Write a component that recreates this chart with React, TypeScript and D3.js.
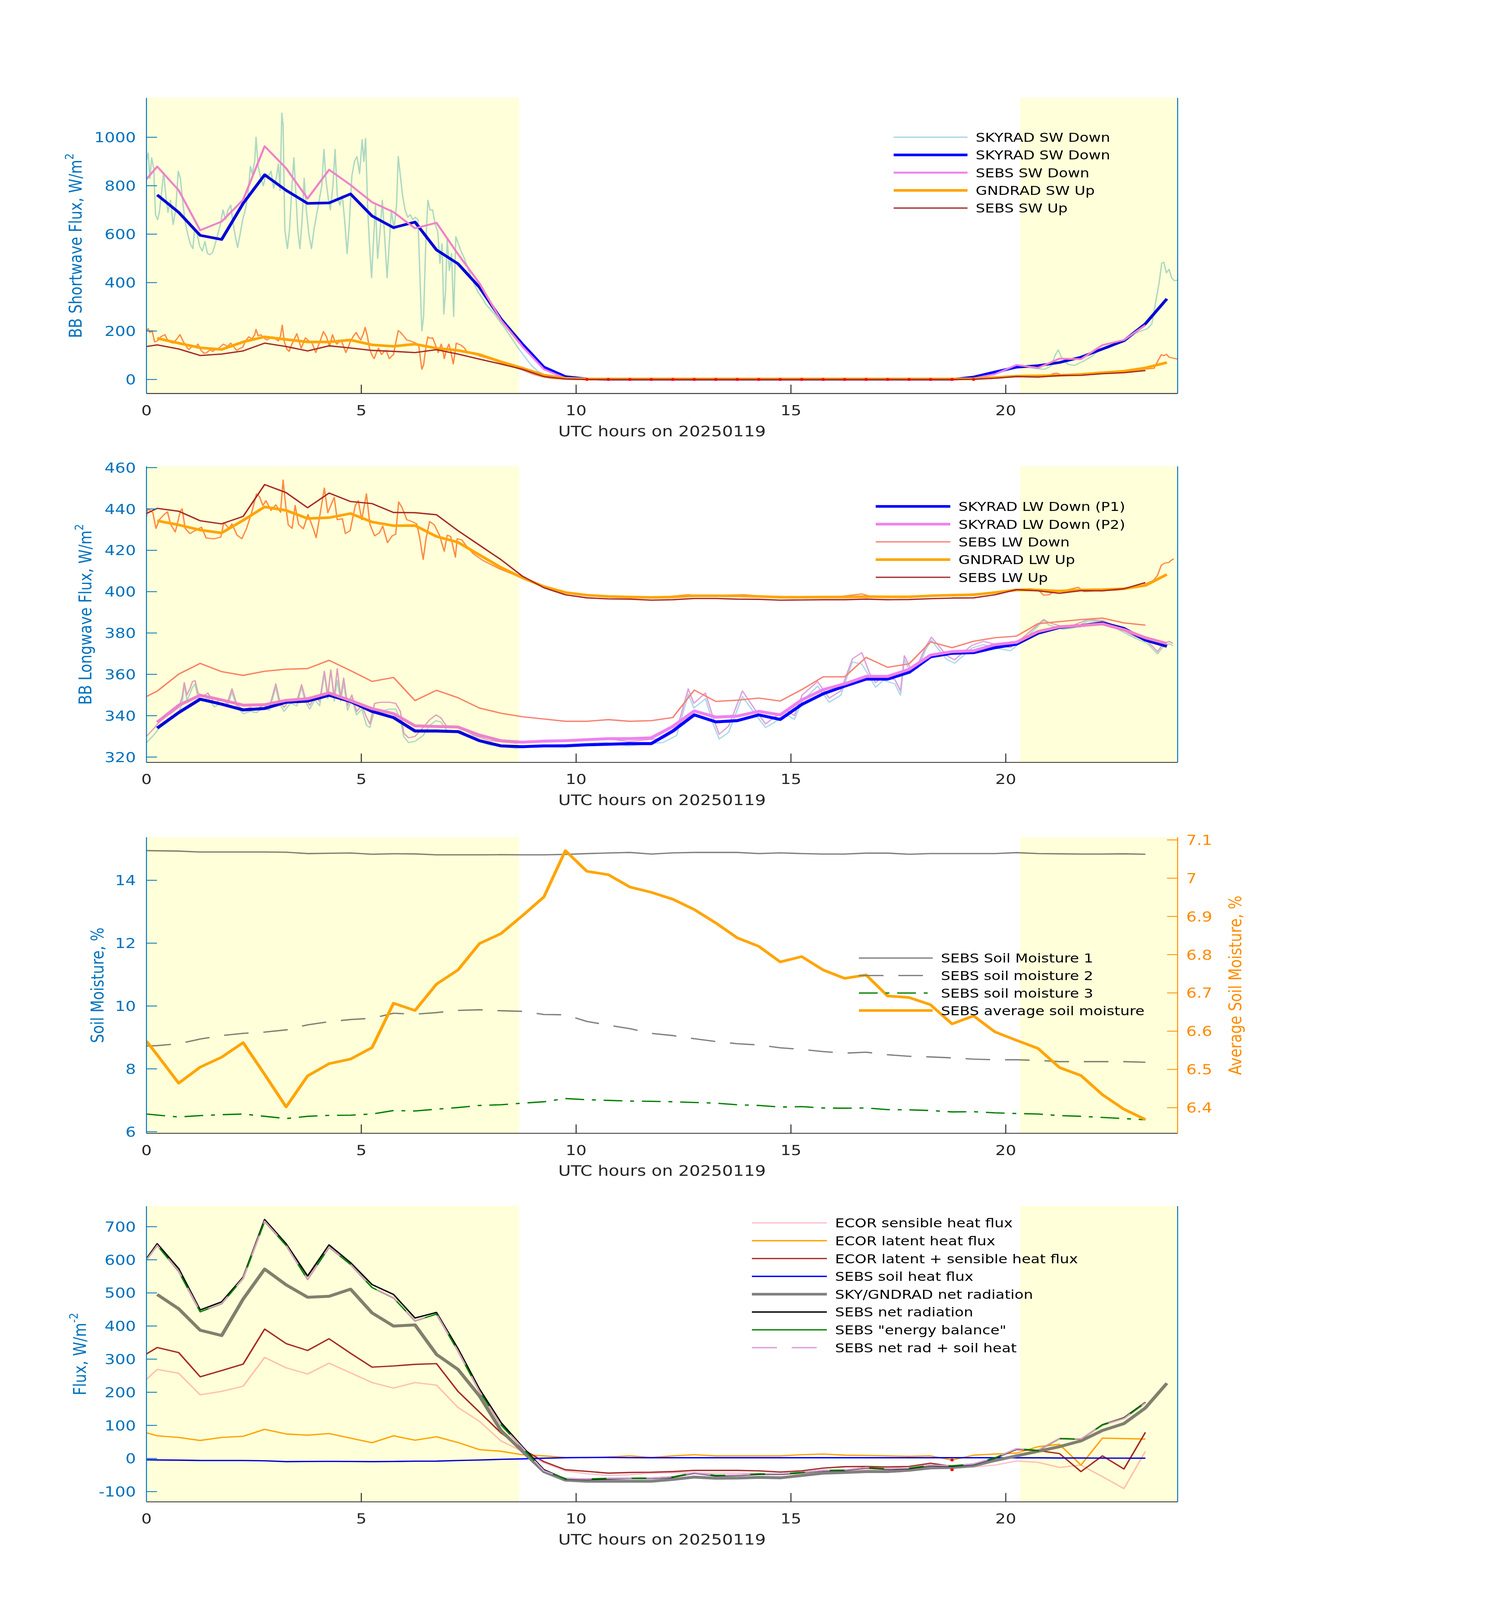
import * as d3 from 'd3';

// ── Canvas & layout ───────────────────────────────────────────────────────────
const W = 3825;
const H = 4875;
const L = 375;
const R = 3015;
const TICK = 27;
const FONT = "'DejaVu Sans', sans-serif";
const BLUE_AX = '#0072BD';
const DARK = '#262626';
const ORANGE_AX = '#FF8C00';
const NIGHT = '#FFFFD9';

const NIGHTS: [number, number][] = [[0, 8.67], [20.33, 24]];
const X_TICKS = [0, 5, 10, 15, 20];
const X_LABEL = 'UTC hours on 20250119';

// 30-min averages: first value at 0 h, then centred on quarter past / to the hour
const HOURS = [0, ...d3.range(0.25, 24, 0.5)];

// ── Panel 1: shortwave ────────────────────────────────────────────────────────
const SKY_SW = [null, 762, 690, 595, 578, 727, 845, 781, 727, 729,
  766, 675, 627, 650, 535, 478, 381, 250, 146, 51,
  12, 2, 0, 0, 0, 0, 0, 0, 0, 0,
  0, 0, 0, 0, 0, 0, 0, 0, 0, 10,
  31, 51, 57, 70, 92, 126, 160, 230, 333];
const SEBS_SW_DN = [827, 879, 781, 616, 652, 742, 963, 872, 747, 866,
  803, 732, 691, 624, 647, 518, 397, 245, 136, 42,
  5, 0, -1, -1, -1, -1, -1, -1, -1, -1,
  -1, -1, -1, -1, -1, -1, -1, -1, -1, 4,
  22, 60, 48, 86, 84, 142, 163, 224, null];
const GND_SW = [null, 170, 150, 131, 124, 155, 176, 165, 155, 155,
  163, 143, 137, 146, 129, 120, 103, 73, 47, 18,
  5, 2, 2, 2, 2, 2, 2, 2, 2, 2,
  2, 2, 2, 2, 2, 2, 2, 2, 2, 3,
  8, 14, 15, 17, 21, 28, 34, 48, 70];
const SEBS_SW_UP = [136, 143, 126, 99, 105, 118, 150, 136, 118, 139,
  130, 120, 116, 111, 123, 105, 84, 64, 42, 12,
  2, 0, 0, 0, 0, 0, 0, 0, 0, 0,
  0, 0, 0, 0, 0, 0, 0, 0, 0, 1,
  5, 12, 10, 16, 17, 24, 28, 37, null];
const SW_FLAG_HOURS = [10.25, 10.75, 11.25, 11.75, 12.25, 12.75, 13.25, 13.75, 14.25, 14.75,
  15.25, 15.75, 16.25, 16.75, 17.25, 17.75, 18.25, 18.75, 19.25];

const SKY_SW_RAW: [number, number][] = [
  [0, 905], [0.04, 935], [0.08, 830], [0.12, 915], [0.17, 870], [0.21, 680], [0.26, 660], [0.3, 690],
  [0.35, 770], [0.4, 855], [0.45, 760], [0.5, 690], [0.56, 740], [0.62, 640], [0.68, 700], [0.74, 860],
  [0.79, 830], [0.84, 740], [0.9, 650], [0.96, 600], [1.02, 560], [1.08, 540], [1.12, 620], [1.18, 600],
  [1.24, 550], [1.3, 530], [1.36, 570], [1.42, 520], [1.48, 515], [1.54, 525], [1.6, 560], [1.66, 600],
  [1.72, 640], [1.78, 700], [1.84, 660], [1.9, 700], [1.96, 720], [2.02, 640], [2.08, 580], [2.12, 545],
  [2.18, 600], [2.24, 660], [2.3, 700], [2.36, 760], [2.42, 880], [2.46, 850], [2.52, 900], [2.55, 1000],
  [2.6, 880], [2.66, 830], [2.72, 800], [2.78, 850], [2.84, 840], [2.9, 860], [2.96, 790], [3.02, 830],
  [3.07, 890], [3.11, 780], [3.15, 1100], [3.18, 1050], [3.22, 620], [3.28, 540], [3.33, 620], [3.38, 780],
  [3.43, 915], [3.48, 760], [3.52, 620], [3.57, 540], [3.62, 650], [3.67, 830], [3.72, 700], [3.78, 600],
  [3.84, 540], [3.9, 620], [3.96, 680], [4.02, 740], [4.08, 800], [4.13, 950], [4.18, 820], [4.23, 750],
  [4.28, 700], [4.34, 800], [4.39, 950], [4.44, 760], [4.5, 720], [4.56, 760], [4.62, 640], [4.67, 520],
  [4.72, 640], [4.78, 840], [4.84, 900], [4.9, 920], [4.96, 850], [5.02, 990], [5.06, 900], [5.1, 995],
  [5.15, 700], [5.19, 560], [5.24, 420], [5.28, 560], [5.33, 720], [5.38, 500], [5.44, 620], [5.49, 740],
  [5.54, 600], [5.6, 420], [5.65, 560], [5.7, 700], [5.76, 620], [5.82, 720], [5.86, 920], [5.91, 840],
  [5.96, 760], [6.02, 700], [6.08, 670], [6.14, 680], [6.2, 660], [6.26, 670], [6.32, 660], [6.37, 400],
  [6.41, 200], [6.45, 260], [6.5, 560], [6.55, 740], [6.6, 700], [6.66, 700], [6.72, 640], [6.78, 610],
  [6.83, 480], [6.88, 560], [6.92, 270], [6.96, 360], [7, 580], [7.05, 450], [7.1, 520], [7.15, 260],
  [7.2, 590], [7.26, 560], [7.32, 530], [7.4, 500], [7.48, 460], [7.56, 420], [7.64, 390], [7.72, 360],
  [7.8, 340], [7.9, 310], [8, 290], [8.1, 270], [8.2, 245], [8.35, 210], [8.5, 170], [8.65, 130],
  [8.8, 95], [8.95, 60], [9.1, 35], [9.3, 15], [9.5, 6], [9.8, 1], [10.2, 0], [19, 0],
  [19.4, 10], [19.8, 25], [20.1, 40], [20.3, 48], [20.5, 50], [20.7, 45], [20.9, 42], [21.05, 55],
  [21.15, 100], [21.22, 122], [21.3, 90], [21.45, 62], [21.6, 58], [21.8, 75], [22, 95], [22.2, 125],
  [22.4, 130], [22.6, 150], [22.8, 160], [23, 190], [23.15, 200], [23.3, 210], [23.4, 230], [23.5, 330],
  [23.57, 400], [23.63, 480], [23.68, 484], [23.74, 440], [23.8, 455], [23.86, 420], [23.92, 408], [24, 410],
];

const GND_SW_RAW: [number, number][] = [
  [0, 200], [0.04, 210], [0.08, 194], [0.13, 202], [0.19, 155], [0.26, 160], [0.33, 176], [0.43, 185],
  [0.5, 160], [0.54, 155], [0.62, 150], [0.71, 168], [0.78, 185], [0.85, 159], [0.95, 130], [0.99, 124],
  [1.08, 140], [1.13, 133], [1.2, 146], [1.27, 120], [1.34, 108], [1.4, 111], [1.48, 122], [1.54, 116],
  [1.62, 125], [1.68, 129], [1.79, 146], [1.89, 137], [1.96, 150], [2.03, 135], [2.1, 120], [2.17, 128],
  [2.24, 133], [2.31, 160], [2.38, 176], [2.46, 168], [2.52, 185], [2.55, 207], [2.6, 180], [2.66, 185],
  [2.73, 172], [2.8, 163], [2.87, 170], [2.93, 176], [3, 168], [3.07, 159], [3.12, 180], [3.16, 224],
  [3.21, 155], [3.27, 125], [3.32, 116], [3.37, 140], [3.42, 159], [3.5, 189], [3.55, 160], [3.6, 129],
  [3.65, 150], [3.7, 172], [3.77, 160], [3.84, 155], [3.9, 130], [3.94, 111], [4, 140], [4.05, 163],
  [4.12, 198], [4.19, 176], [4.26, 137], [4.33, 185], [4.38, 160], [4.43, 146], [4.53, 163], [4.58, 140],
  [4.64, 111], [4.7, 135], [4.74, 155], [4.82, 180], [4.88, 194], [4.94, 175], [4.99, 163], [5.05, 190],
  [5.09, 215], [5.14, 180], [5.19, 129], [5.25, 100], [5.3, 86], [5.35, 110], [5.4, 129], [5.47, 103],
  [5.53, 115], [5.58, 120], [5.65, 86], [5.7, 95], [5.75, 103], [5.8, 150], [5.86, 202], [5.91, 195],
  [5.96, 185], [6.06, 163], [6.13, 160], [6.2, 155], [6.27, 150], [6.34, 137], [6.38, 80], [6.41, 42],
  [6.45, 60], [6.48, 103], [6.52, 150], [6.55, 176], [6.6, 170], [6.66, 172], [6.72, 146], [6.79, 111],
  [6.83, 130], [6.86, 146], [6.9, 120], [6.93, 86], [6.98, 120], [7.04, 146], [7.09, 110], [7.14, 64],
  [7.18, 110], [7.21, 150], [7.27, 145], [7.32, 142], [7.4, 130], [7.45, 116], [7.55, 110], [7.66, 103],
  [7.8, 95], [8, 85], [8.2, 72], [8.4, 60], [8.6, 48], [8.8, 36], [9, 22], [9.2, 12],
  [9.4, 5], [9.7, 1], [10.2, 0], [19.2, 0], [19.6, 4], [20, 9], [20.4, 13], [20.8, 14],
  [21, 16], [21.1, 24], [21.2, 26], [21.3, 18], [21.6, 19], [22, 22], [22.4, 28], [22.8, 34],
  [23.1, 40], [23.3, 44], [23.45, 46], [23.55, 80], [23.62, 102], [23.68, 98], [23.74, 104], [23.8, 92],
  [23.9, 88], [24, 84],
];

// ── Panel 2: longwave ─────────────────────────────────────────────────────────
const SKY_LW1 = [null, 334, 341.5, 348, 345.6, 342.8, 343.5, 346.5, 347.1, 349.9,
  346.9, 342.1, 339.1, 332.6, 332.6, 332.3, 327.9, 325.4, 325, 325.4,
  325.4, 325.9, 326.2, 326.5, 326.5, 332.6, 340.4, 337, 337.6, 340.4,
  338.2, 345.4, 350.6, 354.3, 357.7, 357.7, 361, 368.5, 370.2, 370.5,
  372.9, 374.6, 379.9, 382.7, 383.6, 384.9, 382.2, 376.6, 373.6];
const SKY_LW2 = [null, 336.8, 345, 349.9, 347.6, 345.1, 345.3, 347.4, 348.2, 351,
  347.3, 343.4, 341, 335.1, 334.8, 334.5, 330.6, 327.9, 327.2, 327.7,
  327.9, 328.4, 328.9, 328.9, 329.3, 334.8, 342.3, 339.3, 339.8, 342.1,
  340.4, 347.6, 352.6, 355.4, 359, 359, 362.4, 369.3, 371, 371.4,
  374.4, 375.5, 380.7, 383, 383.6, 384.4, 381.6, 377.7, 374.9];
const SEBS_LW_DN = [349.3, 351.9, 360.1, 365.3, 361.3, 359.5, 361.5, 362.5, 362.8, 366.8,
  361.8, 356.6, 358.5, 347.3, 352.3, 348.7, 343.7, 341.2, 339.5, 338.4,
  337.3, 337.3, 338.1, 337.3, 337.6, 339.1, 352.4, 346.9, 347.5, 348.5,
  347.1, 352.6, 358.8, 358.8, 368.2, 363.4, 365.1, 375.7, 372.9, 376,
  377.7, 378.5, 384.5, 385.5, 386.5, 387.2, 384.9, 383.8, null];
const GND_LW = [null, 434.3, 432.3, 429.8, 428.4, 434.5, 441, 439.3, 435.4, 435.8,
  437.8, 433.7, 431.9, 432, 426.7, 423.9, 417.8, 411.7, 406.7, 402.5,
  399.6, 398.3, 397.7, 397.4, 397.2, 397.4, 398, 398, 397.9, 397.7,
  397.3, 397.3, 397.4, 397.4, 397.6, 397.5, 397.5, 398, 398.3, 398.5,
  399.6, 400.8, 400.8, 400.3, 400.8, 401, 401.4, 403, 408.3];
const SEBS_LW_UP = [437.8, 440.3, 438.9, 434.3, 432.8, 436.4, 451.8, 447.9, 440.6, 447.7,
  443.6, 442.6, 438.3, 438.2, 437.2, 429.5, 422.5, 415.5, 407.5, 401.9,
  398.5, 397, 396.5, 396.4, 395.9, 396.1, 396.7, 396.7, 396.4, 396.3,
  395.9, 396, 396.1, 396.1, 396.4, 396.1, 396.2, 396.6, 396.9, 397,
  398.5, 401, 400.4, 399.2, 400.5, 400.4, 401.4, 404.4, null];

const SKY_LW1_RAW: [number, number][] = [
  [0, 327], [0.18, 330.9], [0.37, 336], [0.56, 338.7], [0.75, 341.5], [0.83, 346], [0.88, 355.4], [0.94, 347.6],
  [1.01, 350.4], [1.07, 353.8], [1.13, 355.4], [1.2, 348.7], [1.31, 347], [1.43, 348.7], [1.58, 344.3], [1.73, 346],
  [1.88, 344.3], [1.99, 351.5], [2.11, 343.7], [2.26, 341], [2.41, 342.1], [2.56, 341.5], [2.71, 343.7], [2.86, 342.6],
  [3.01, 353.8], [3.09, 346], [3.2, 342.1], [3.35, 346], [3.5, 344.8], [3.61, 353.8], [3.69, 347], [3.8, 343.2],
  [3.92, 347.6], [4.03, 344.8], [4.14, 360.4], [4.22, 348.2], [4.29, 362.1], [4.37, 347], [4.44, 357.1], [4.52, 347],
  [4.59, 356], [4.68, 342.6], [4.78, 348.2], [4.89, 340.4], [5.01, 343.2], [5.12, 335.4], [5.2, 334.3], [5.31, 342.6],
  [5.46, 342.1], [5.65, 343.2], [5.8, 343.2], [5.91, 338.2], [5.99, 329.8], [6.1, 327], [6.25, 327.6], [6.44, 330.4],
  [6.59, 335.4], [6.74, 337.6], [6.85, 337], [7, 332.6], [7.31, 332.8], [7.61, 328.7], [7.98, 325.9], [8.59, 324.2],
  [9.11, 325.4], [10.09, 326.5], [10.68, 327], [11.22, 325.4], [11.71, 326.5], [12.02, 327], [12.34, 330.4], [12.61, 350.4],
  [12.74, 343.7], [13.01, 348.2], [13.19, 336], [13.33, 328.7], [13.55, 332], [13.87, 349.3], [14.18, 340.4], [14.41, 334.3],
  [14.63, 337], [14.9, 340.4], [15.08, 338.2], [15.26, 347], [15.62, 354.3], [15.89, 346.5], [16.16, 349.9], [16.43, 366],
  [16.65, 364.9], [16.83, 358.8], [16.97, 353.8], [17.15, 357.1], [17.42, 355.4], [17.55, 349.9], [17.64, 367.1], [17.78, 361],
  [17.96, 363.2], [18.14, 372.1], [18.27, 376.6], [18.41, 372.7], [18.63, 367.1], [18.81, 365.4], [19.03, 369.3], [19.21, 372.7],
  [19.48, 374.4], [19.75, 372.7], [20.11, 371.4], [20.47, 377.7], [20.88, 386], [21.01, 383.8], [21.33, 381.8], [21.6, 382.7],
  [21.91, 385.8], [22.27, 385.5], [22.63, 381.6], [22.99, 377.7], [23.3, 374.9], [23.53, 369.9], [23.66, 373.2], [23.8, 374.9],
  [23.89, 373.8],
];

const SKY_LW2_RAW: [number, number][] = [
  [0, 330], [0.18, 334], [0.37, 339], [0.56, 341], [0.75, 344], [0.83, 349], [0.88, 356], [0.94, 350],
  [1.01, 353], [1.07, 356.5], [1.13, 357], [1.2, 351], [1.31, 349], [1.43, 351], [1.58, 346], [1.73, 348],
  [1.88, 346], [1.99, 353], [2.11, 345], [2.26, 343], [2.41, 344], [2.56, 343], [2.71, 345], [2.86, 344],
  [3.01, 355.4], [3.09, 348], [3.2, 344], [3.35, 348], [3.5, 347], [3.61, 355], [3.69, 349], [3.8, 345],
  [3.92, 349], [4.03, 347], [4.14, 361.5], [4.22, 350], [4.29, 362.1], [4.37, 349], [4.44, 362.7], [4.52, 349],
  [4.59, 358.2], [4.68, 345], [4.78, 350], [4.89, 342], [5.01, 345], [5.12, 339.3], [5.2, 336], [5.31, 346],
  [5.46, 346.5], [5.65, 346.5], [5.8, 346], [5.91, 342], [5.99, 331.5], [6.1, 329.3], [6.25, 330], [6.44, 334.3],
  [6.59, 338], [6.74, 340.4], [6.85, 339], [7, 334.5], [7.31, 334.5], [7.61, 330.5], [7.98, 328], [8.59, 326.7],
  [9.11, 327.5], [10.09, 328.4], [10.68, 329], [11.22, 327.5], [11.71, 328.5], [12.02, 329], [12.34, 333], [12.61, 353],
  [12.74, 346], [13.01, 351], [13.19, 339], [13.33, 331], [13.55, 335], [13.87, 352], [14.18, 342.5], [14.41, 336],
  [14.63, 339.5], [14.9, 342.5], [15.08, 340], [15.26, 350], [15.62, 356.5], [15.89, 348.5], [16.16, 352], [16.43, 367.5],
  [16.65, 370.5], [16.83, 360.5], [16.97, 356], [17.15, 359], [17.42, 357.5], [17.55, 352], [17.64, 369], [17.78, 363],
  [17.96, 365], [18.14, 373.5], [18.27, 378], [18.41, 374.5], [18.63, 369], [18.81, 367], [19.03, 371], [19.21, 374],
  [19.48, 376], [19.75, 374.5], [20.11, 373], [20.47, 379], [20.88, 386.5], [21.01, 385], [21.33, 383], [21.6, 384],
  [21.91, 386.5], [22.27, 386], [22.63, 382.5], [22.99, 378.5], [23.3, 376], [23.53, 371], [23.66, 374.5], [23.8, 376],
  [23.89, 375],
];

const GND_LW_RAW: [number, number][] = [
  [0, 436.2], [0.03, 440.1], [0.15, 438.2], [0.22, 430.6], [0.3, 434.8], [0.41, 437.3], [0.49, 438.6], [0.56, 432.6],
  [0.67, 428.9], [0.79, 439], [0.83, 440.1], [0.9, 430.6], [1.01, 428.1], [1.13, 429.5], [1.28, 431.2], [1.39, 425.9],
  [1.58, 425.6], [1.73, 426.4], [1.8, 433.4], [1.92, 430.6], [1.99, 432.8], [2.11, 427.3], [2.22, 425.6], [2.33, 430.6],
  [2.45, 438.4], [2.56, 447.3], [2.63, 446], [2.71, 441.7], [2.78, 444], [2.9, 439.3], [3.01, 442], [3.12, 438.4],
  [3.18, 454], [3.24, 441.7], [3.3, 432.3], [3.39, 430.6], [3.46, 441.7], [3.54, 432.6], [3.65, 430.4], [3.76, 437.3],
  [3.88, 430.6], [3.95, 426.1], [4.03, 436.2], [4.14, 450.1], [4.22, 438.2], [4.29, 441.7], [4.37, 445.6], [4.44, 434.8],
  [4.56, 435.3], [4.63, 428.1], [4.74, 429.5], [4.86, 441.7], [4.93, 444], [5.01, 434.8], [5.12, 447.3], [5.2, 432.6],
  [5.31, 427], [5.42, 428.4], [5.5, 431.7], [5.61, 423.7], [5.72, 427], [5.8, 427.8], [5.87, 443.4], [5.95, 440.6],
  [6.06, 434.8], [6.18, 433.9], [6.29, 432.8], [6.36, 426.1], [6.44, 415.6], [6.51, 426.1], [6.59, 433.9], [6.7, 432.3],
  [6.82, 427.3], [6.93, 419.5], [7, 427.3], [7.08, 426.7], [7.19, 416.7], [7.23, 425.6], [7.34, 425], [7.46, 421.7],
  [7.61, 418.3], [7.84, 415], [8.21, 411.1], [8.74, 406.7], [9.26, 402.5], [9.71, 399.6], [10.24, 398.3], [10.77, 397.7],
  [11.12, 397.5], [12.02, 397.4], [12.61, 398.5], [12.92, 398.1], [13.91, 398.5], [14.27, 397.9], [15.17, 397.4], [16.07, 397.5],
  [16.65, 398.9], [16.88, 397.6], [17.86, 397.6], [18.76, 398.3], [19.66, 399.4], [20.2, 401.1], [20.56, 401.4], [20.74, 401.1],
  [20.88, 398.3], [21.01, 398.5], [21.15, 400.5], [21.42, 400.8], [21.69, 402.1], [21.82, 400], [22.18, 400.5], [22.63, 400.8],
  [22.99, 401.9], [23.21, 403.3], [23.44, 405.5], [23.53, 407.8], [23.62, 412.8], [23.71, 413.9], [23.8, 414.1], [23.84, 415],
  [23.91, 415.9],
];

// ── Panel 3: soil moisture ────────────────────────────────────────────────────
const SOIL_1 = [14.946, 14.94, 14.93, 14.9, 14.9, 14.9, 14.9, 14.895, 14.85, 14.86,
  14.87, 14.83, 14.845, 14.84, 14.81, 14.81, 14.81, 14.815, 14.81, 14.81,
  14.825, 14.85, 14.87, 14.887, 14.836, 14.873, 14.887, 14.887, 14.887, 14.851,
  14.873, 14.851, 14.836, 14.836, 14.865, 14.865, 14.829, 14.851, 14.851, 14.851,
  14.851, 14.88, 14.851, 14.843, 14.836, 14.836, 14.843, 14.829, null];
const SOIL_2 = [8.727, 8.74, 8.8, 8.95, 9.06, 9.13, 9.17, 9.24, 9.4, 9.5,
  9.57, 9.61, 9.77, 9.74, 9.79, 9.86, 9.88, 9.85, 9.83, 9.73,
  9.72, 9.51, 9.39, 9.28, 9.13, 9.06, 8.96, 8.87, 8.8, 8.76,
  8.67, 8.62, 8.55, 8.5, 8.53, 8.45, 8.4, 8.38, 8.35, 8.31,
  8.29, 8.29, 8.27, 8.23, 8.23, 8.23, 8.23, 8.21, null];
const SOIL_3 = [6.564, 6.53, 6.469, 6.513, 6.542, 6.564, 6.49, 6.418, 6.49, 6.52,
  6.527, 6.564, 6.674, 6.66, 6.718, 6.77, 6.836, 6.858, 6.909, 6.953,
  7.056, 7.019, 6.997, 6.975, 6.968, 6.953, 6.931, 6.909, 6.858, 6.836,
  6.784, 6.799, 6.755, 6.748, 6.755, 6.704, 6.696, 6.674, 6.63, 6.637,
  6.601, 6.579, 6.564, 6.513, 6.49, 6.454, 6.418, 6.381, null];
const SOIL_AVG = [6.574, 6.538, 6.464, 6.506, 6.532, 6.57, 6.487, 6.402, 6.483, 6.515,
  6.527, 6.557, 6.673, 6.654, 6.723, 6.76, 6.829, 6.855, 6.902, 6.951,
  7.072, 7.018, 7.009, 6.977, 6.963, 6.945, 6.918, 6.883, 6.844, 6.822,
  6.781, 6.795, 6.76, 6.738, 6.747, 6.692, 6.688, 6.669, 6.619, 6.64,
  6.598, 6.576, 6.555, 6.505, 6.484, 6.434, 6.396, 6.369, null];

// ── Panel 4: surface energy fluxes ────────────────────────────────────────────
const ECOR_SENS = [239, 269, 257.2, 192.4, 202.8, 218.2, 305.2, 273.9, 255.1, 287.8,
  258.5, 229.3, 212.6, 229.3, 221.6, 154.1, 112.3, 53.1, 21.8, -13,
  -37.4, -46, -51.3, -49, -44.3, -43, -44.3, -44.3, -44.3, -45.5,
  -47.8, -45.5, -40.9, -37.4, -34, -34, -30.4, -25.5, -23.4, -25.5,
  -20, -7.5, -11.6, -27, -20, -54.8, -91, 21.8, null];
const ECOR_LAT = [77.5, 68.5, 63.6, 54.5, 63.6, 67.1, 88, 74, 70.5, 75.4,
  61.5, 47.6, 68.5, 55.2, 65.7, 48.3, 26.7, 21.8, 11.4, 7.9,
  3, 2.3, 4.4, 7.9, 3, 7.9, 11.4, 7.9, 7.9, 7.9,
  7.9, 11.4, 13.4, 10, 9.3, 7.9, 6.5, 7.9, -4.6, 10,
  13.4, 16.2, 35.7, 42.7, -20, 61.5, 60.1, 58.7, null];
const ECOR_LS = [315.6, 335.1, 319.8, 246.7, 265.5, 285, 390.8, 347, 326.1, 361.6,
  317.7, 275.9, 279.4, 284.3, 286.4, 202.8, 140.2, 77.5, 28.8, -9.5,
  -33.9, -38.8, -44.3, -42.2, -41.5, -39.5, -36, -36, -36, -37.4,
  -40.9, -37.4, -29, -24.8, -24.1, -25.5, -24.1, -14.4, -23.4, -20,
  0.9, 27.4, 23.9, 14.8, -39.5, 7.9, -31.8, 78.9, null];
const SOIL_HEAT = [-4, -4.5, -5, -6, -6, -6, -7, -9.5, -9, -8.8,
  -9, -9.5, -9, -8.1, -8, -6, -4.6, -2.6, -1.2, 0.9,
  2.3, 3, 3.2, 2.5, 2.3, 2.3, 2.3, 2.3, 2.3, 2.3,
  2.3, 2.3, 2.3, 2.3, 2.3, 2.3, 2.3, 2.3, 2.3, 2.3,
  2.3, 2, 2, 1.5, 1.5, 1, 1, 0.9, null];
const NET_RAD_SKY = [null, 495.3, 452.1, 387.4, 371.3, 481.4, 571.9, 524.5, 486.9, 489.7,
  511.3, 439.6, 399.9, 403.4, 314.3, 269, 188.9, 84.5, 21.8, -39.5,
  -65.2, -68.7, -68.7, -68.7, -68.7, -63.2, -56.2, -59.7, -59, -56.9,
  -58.3, -51.3, -44.3, -42.2, -39.5, -39.5, -35.3, -28.3, -27, -22.1,
  -6, 7.9, 21.8, 35.7, 53.1, 84.5, 105.4, 152.7, 227.2];
const NET_RAD_SEBS = [603.2, 648.5, 573.3, 448.6, 473, 547.5, 721.6, 648.5, 551, 645,
  591.4, 525.2, 495.3, 424.3, 441, 331.7, 209.8, 108.9, 35.7, -33.9,
  -61.8, -63.2, -61.8, -60.4, -60.4, -56.9, -44.3, -52.6, -51.3, -47.8,
  -47.8, -43, -37.4, -36, -28.3, -32.5, -30.4, -21.4, -23.4, -17.9,
  0.9, 28.8, 23.9, 60.1, 58, 101.9, 122.8, 169.4, null];
const ENERGY_BAL = [599.7, 643.6, 564.9, 443, 467.4, 544, 716, 643.6, 540.5, 638,
  585.8, 516.2, 484.8, 415.2, 436.1, 324.7, 202.8, 101.9, 32.2, -37.4,
  -60.4, -61.8, -59.7, -59.5, -59, -55.5, -43, -51, -50, -46.5,
  -46.5, -42, -36, -35, -27, -31, -29, -20, -22, -16.5,
  2, 29.5, 24.5, 60.5, 58.5, 101, 121, 168, null];
const NET_PLUS_SOIL = [600, 644, 566, 444, 468, 544.5, 717, 644, 541, 639,
  586, 517, 485.5, 416, 437, 325, 203, 102, 32.5, -37,
  -60.5, -62, -60, -59.5, -59, -55.5, -43, -51, -50, -46.5,
  -46.5, -42, -36, -35, -27, -31, -29, -20, -22, -16.5,
  2, 29.5, 24.5, 60.5, 58.5, 101, 121, 168, null];
const FLUX_FLAGS: [number, number][] = [[18.75, -4.6], [18.75, -34]];

// ── Types & helpers ───────────────────────────────────────────────────────────
type Pt = [number, number | null];
type Trace = { pts: Pt[]; color: string; width: number; dash?: string; right?: boolean };
type Row = { label: string; color: string; width: number; dash?: string };
type PanelCfg = {
  id: string;
  top: number;
  bottom: number;
  yDomain: [number, number];
  yTicks: number[];
  ylabel: string;
  ysup?: string;
  ylabelX: number;
  right?: { domain: [number, number]; ticks: number[]; label: string };
  traces: Trace[];
  legend: { x1: number; x2: number; tx: number; y0: number; dy: number; rows: Row[] };
  flags?: [number, number][];
};

const half = (vals: (number | null)[]): Pt[] => vals.map((v, i) => [HOURS[i], v]);

const DASH2 = '63 38';
const DASHDOT = '48 20 10 20';

const PANELS: PanelCfg[] = [
  {
    id: 'sw', top: 298, bottom: 1199, yDomain: [-58, 1163], yTicks: [0, 200, 400, 600, 800, 1000],
    ylabel: 'BB Shortwave Flux, W/m', ysup: '2', ylabelX: 194,
    traces: [
      { pts: SKY_SW_RAW, color: '#ADD8E6', width: 3.5 },
      { pts: GND_SW_RAW, color: '#FF8A4C', width: 3.5 },
      { pts: half(SKY_SW), color: '#0000FF', width: 8 },
      { pts: half(SEBS_SW_DN), color: '#EE82EE', width: 5.5 },
      { pts: half(GND_SW), color: '#FFA500', width: 8 },
      { pts: half(SEBS_SW_UP), color: '#A52A2A', width: 4 },
    ],
    legend: {
      x1: 2288, x2: 2477, tx: 2498, y0: 418, dy: 54,
      rows: [
        { label: 'SKYRAD SW Down', color: '#ADD8E6', width: 4 },
        { label: 'SKYRAD SW Down', color: '#0000FF', width: 8 },
        { label: 'SEBS SW Down', color: '#EE82EE', width: 6 },
        { label: 'GNDRAD SW Up', color: '#FFA500', width: 8 },
        { label: 'SEBS SW Up', color: '#A52A2A', width: 4 },
      ],
    },
    flags: SW_FLAG_HOURS.map(h => [h, 0]),
  },
  {
    id: 'lw', top: 1421, bottom: 2323, yDomain: [317.4, 460.6], yTicks: [320, 340, 360, 380, 400, 420, 440, 460],
    ylabel: 'BB Longwave Flux, W/m', ysup: '2', ylabelX: 219,
    traces: [
      { pts: SKY_LW1_RAW, color: '#ADD8E6', width: 3.5 },
      { pts: SKY_LW2_RAW, color: '#DDA0DD', width: 3.5 },
      { pts: GND_LW_RAW, color: '#FF8A4C', width: 3.5 },
      { pts: half(SKY_LW1), color: '#0000FF', width: 9 },
      { pts: half(SKY_LW2), color: '#EE82EE', width: 9 },
      { pts: half(SEBS_LW_DN), color: '#FA8072', width: 4 },
      { pts: half(GND_LW), color: '#FFA500', width: 8 },
      { pts: half(SEBS_LW_UP), color: '#A52A2A', width: 4 },
    ],
    legend: {
      x1: 2242, x2: 2433, tx: 2454, y0: 1543, dy: 54,
      rows: [
        { label: 'SKYRAD LW Down (P1)', color: '#0000FF', width: 8 },
        { label: 'SKYRAD LW Down (P2)', color: '#EE82EE', width: 8 },
        { label: 'SEBS LW Down', color: '#FA8072', width: 4 },
        { label: 'GNDRAD LW Up', color: '#FFA500', width: 8 },
        { label: 'SEBS LW Up', color: '#A52A2A', width: 4 },
      ],
    },
  },
  {
    id: 'soil', top: 2551, bottom: 3453, yDomain: [5.95, 15.37], yTicks: [6, 8, 10, 12, 14],
    ylabel: 'Soil Moisture, %', ylabelX: 250,
    right: { domain: [6.333, 7.107], ticks: [6.4, 6.5, 6.6, 6.7, 6.8, 6.9, 7, 7.1], label: 'Average Soil Moisture, %' },
    traces: [
      { pts: half(SOIL_1), color: '#808080', width: 4 },
      { pts: half(SOIL_2), color: '#808080', width: 4, dash: DASH2 },
      { pts: half(SOIL_3), color: '#008000', width: 4, dash: DASHDOT },
      { pts: half(SOIL_AVG), color: '#FFA500', width: 8, right: true },
    ],
    legend: {
      x1: 2199, x2: 2388, tx: 2409, y0: 2919, dy: 53.3,
      rows: [
        { label: 'SEBS Soil Moisture 1', color: '#808080', width: 4 },
        { label: 'SEBS soil moisture 2', color: '#808080', width: 4, dash: DASH2 },
        { label: 'SEBS soil moisture 3', color: '#008000', width: 4, dash: DASHDOT },
        { label: 'SEBS average soil moisture', color: '#FFA500', width: 8 },
      ],
    },
  },
  {
    id: 'flux', top: 3675, bottom: 4576, yDomain: [-131, 762], yTicks: [-100, 0, 100, 200, 300, 400, 500, 600, 700],
    ylabel: 'Flux, W/m', ysup: '-2', ylabelX: 205,
    traces: [
      { pts: half(ECOR_SENS), color: '#FFC0CB', width: 4 },
      { pts: half(ECOR_LAT), color: '#FFA500', width: 4 },
      { pts: half(ECOR_LS), color: '#A52A2A', width: 4 },
      { pts: half(SOIL_HEAT), color: '#0000FF', width: 4 },
      { pts: half(NET_RAD_SKY), color: '#808080', width: 9 },
      { pts: half(NET_RAD_SEBS), color: '#000000', width: 4 },
      { pts: half(ENERGY_BAL), color: '#008000', width: 4 },
      { pts: half(NET_PLUS_SOIL), color: '#DDA0DD', width: 4, dash: '64 38' },
    ],
    legend: {
      x1: 1925, x2: 2117, tx: 2138, y0: 3726, dy: 54.3,
      rows: [
        { label: 'ECOR sensible heat flux', color: '#FFC0CB', width: 4 },
        { label: 'ECOR latent heat flux', color: '#FFA500', width: 4 },
        { label: 'ECOR latent + sensible heat flux', color: '#A52A2A', width: 4 },
        { label: 'SEBS soil heat flux', color: '#0000FF', width: 4 },
        { label: 'SKY/GNDRAD net radiation', color: '#808080', width: 8 },
        { label: 'SEBS net radiation', color: '#000000', width: 4 },
        { label: 'SEBS "energy balance"', color: '#008000', width: 4 },
        { label: 'SEBS net rad + soil heat', color: '#DDA0DD', width: 4, dash: '64 38' },
      ],
    },
    flags: FLUX_FLAGS,
  },
];

// ── Panel ─────────────────────────────────────────────────────────────────────
function Panel({ cfg }: { cfg: PanelCfg }) {
  const x = d3.scaleLinear().domain([0, 24]).range([L, R]);
  const y = d3.scaleLinear().domain(cfg.yDomain).range([cfg.bottom, cfg.top]);
  const yr = cfg.right
    ? d3.scaleLinear().domain(cfg.right.domain).range([cfg.bottom, cfg.top])
    : null;
  const mid = (cfg.top + cfg.bottom) / 2;

  const pathOf = (t: Trace) => {
    const ys = t.right && yr ? yr : y;
    return d3.line<Pt>()
      .defined(d => d[1] != null)
      .x(d => x(d[0]))
      .y(d => ys(d[1] as number))(t.pts) ?? '';
  };

  return (
    <g>
      <defs>
        <clipPath id={`clip-${cfg.id}`}>
          <rect x={L} y={cfg.top} width={R - L} height={cfg.bottom - cfg.top} />
        </clipPath>
      </defs>

      {/* shaded periods */}
      {NIGHTS.map(([a, b], i) => (
        <rect key={i} x={x(a)} y={cfg.top} width={x(b) - x(a)} height={cfg.bottom - cfg.top} fill={NIGHT} />
      ))}

      {/* data */}
      <g clipPath={`url(#clip-${cfg.id})`} style={{ mixBlendMode: 'multiply' }}>
        {cfg.traces.map((t, i) => (
          <path
            key={i}
            d={pathOf(t)}
            fill="none"
            stroke={t.color}
            strokeWidth={t.width}
            strokeDasharray={t.dash}
            strokeLinejoin="round"
          />
        ))}
        {(cfg.flags ?? []).map(([h, v], i) => (
          <circle key={i} cx={x(h)} cy={y(v)} r={4.5} fill="#FF0000" />
        ))}
      </g>

      {/* x axis */}
      <line x1={L} x2={R} y1={cfg.bottom} y2={cfg.bottom} stroke={DARK} strokeWidth={2.5} />
      {X_TICKS.map(h => (
        <g key={h}>
          {h > 0 && (
            <line x1={x(h)} x2={x(h)} y1={cfg.bottom} y2={cfg.bottom - TICK} stroke={DARK} strokeWidth={2.5} />
          )}
          <text x={x(h)} y={cfg.bottom + 66} textAnchor="middle" fontSize={42} fill={DARK} fontFamily={FONT}>
            {h}
          </text>
        </g>
      ))}
      <text x={(L + R) / 2} y={cfg.bottom + 130} textAnchor="middle" fontSize={44} fill={DARK} fontFamily={FONT}>
        {X_LABEL}
      </text>

      {/* left y axis */}
      <line x1={L} x2={L} y1={cfg.top} y2={cfg.bottom} stroke={BLUE_AX} strokeWidth={2.5} />
      {cfg.yTicks.map(v => (
        <g key={v}>
          <line x1={L} x2={L + TICK} y1={y(v)} y2={y(v)} stroke={BLUE_AX} strokeWidth={2.5} />
          <text x={L - 27} y={y(v) + 15} textAnchor="end" fontSize={42} fill={BLUE_AX} fontFamily={FONT}>
            {v}
          </text>
        </g>
      ))}
      <text
        transform={`translate(${cfg.ylabelX},${mid}) rotate(-90)`}
        textAnchor="middle"
        dominantBaseline="central"
        fontSize={44}
        fill={BLUE_AX}
        fontFamily={FONT}
      >
        {cfg.ylabel}
        {cfg.ysup && <tspan dy={-17} fontSize={31}>{cfg.ysup}</tspan>}
      </text>

      {/* right side */}
      <line
        x1={R} x2={R} y1={cfg.top} y2={cfg.bottom}
        stroke={cfg.right ? ORANGE_AX : BLUE_AX}
        strokeWidth={2.5}
      />
      {cfg.right && yr && (
        <g>
          {cfg.right.ticks.map(v => (
            <g key={v}>
              <line x1={R} x2={R - TICK} y1={yr(v)} y2={yr(v)} stroke={ORANGE_AX} strokeWidth={2.5} />
              <text x={R + 22} y={yr(v) + 15} fontSize={42} fill={ORANGE_AX} fontFamily={FONT}>
                {v}
              </text>
            </g>
          ))}
          <text
            transform={`translate(3163,${mid}) rotate(-90)`}
            textAnchor="middle"
            dominantBaseline="central"
            fontSize={44}
            fill={ORANGE_AX}
            fontFamily={FONT}
          >
            {cfg.right.label}
          </text>
        </g>
      )}

      {/* legend */}
      {cfg.legend.rows.map((r, i) => {
        const ly = cfg.legend.y0 + i * cfg.legend.dy;
        return (
          <g key={i}>
            <line
              x1={cfg.legend.x1} x2={cfg.legend.x2} y1={ly} y2={ly}
              stroke={r.color} strokeWidth={r.width} strokeDasharray={r.dash}
            />
            <text x={cfg.legend.tx} y={ly + 14} fontSize={38} fill="#000" fontFamily={FONT}>
              {r.label}
            </text>
          </g>
        );
      })}
    </g>
  );
}

// The svg is sized to the viewport so the whole figure is always in frame.
export default function App() {
  return (
    <div style={{ position: 'absolute', left: 0, top: 0, width: '100vw', height: '100vh', overflow: 'hidden' }}>
      <svg
        viewBox={`0 0 ${W} ${H}`}
        preserveAspectRatio="none"
        style={{ display: 'block', width: '100vw', height: '100vh', background: '#fff' }}
      >
        <rect x={0} y={0} width={W} height={H} fill="#fff" />
        {PANELS.map(p => <Panel key={p.id} cfg={p} />)}
      </svg>
    </div>
  );
}
